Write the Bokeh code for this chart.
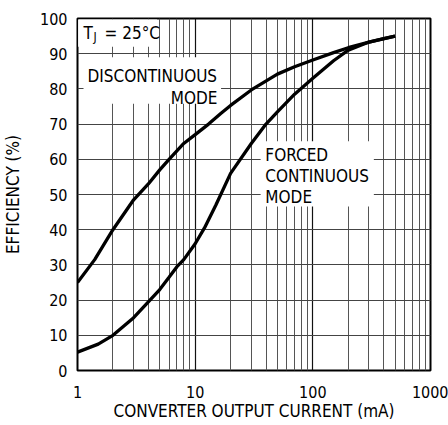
from bokeh.plotting import figure
from bokeh.models import Range1d, FixedTicker, BoxAnnotation, Label
from bokeh.embed import file_html
from bokeh.resources import INLINE

# ---- data ----
disc_x = [1, 1.4, 2, 3, 4, 5, 6, 8, 10, 13, 16.5, 20, 30, 50, 70, 100, 150, 200, 300, 400, 500]
disc_y = [25, 31.5, 40, 48.5, 53, 57, 60, 64.5, 67, 70, 73, 75.3, 79.7, 84.2, 86.3, 88.2, 90.3, 91.7, 93.3, 94.3, 95]

forced_x = [1, 1.5, 2, 3, 4, 5, 6, 7, 8, 10, 12, 15, 20, 30, 40, 50, 70, 100, 150, 200, 300, 500]
forced_y = [5.2, 7.5, 10, 15, 19.5, 23, 26.5, 29.5, 31.5, 36, 40.5, 47, 56, 64.5, 70, 73.5, 78.5, 83, 88, 91, 93.3, 95]

x_ticks = [1, 10, 100, 1000]
x_minor = [m * d for d in (1, 10, 100) for m in range(2, 10)]
y_ticks = list(range(0, 101, 10))

FONT = "DejaVu Sans Condensed"
FS = "17px"
TICK_FS = "16px"

p = figure(frame_width=353, frame_height=352, x_axis_type="log",
           x_range=Range1d(1, 1000), y_range=Range1d(0, 100),
           output_backend="svg", toolbar_location=None,
           min_border_left=69, min_border_right=18, min_border_top=18, min_border_bottom=46)
p.background_fill_color = "white"
p.border_fill_color = "white"
p.outline_line_color = "black"
p.outline_line_width = 2

# grids
p.xaxis.ticker = FixedTicker(ticks=x_ticks, minor_ticks=x_minor)
p.yaxis.ticker = FixedTicker(ticks=y_ticks)
p.xgrid.grid_line_color = "#111111"
p.xgrid.grid_line_width = 1.2
p.xgrid.minor_grid_line_color = "#555555"
p.xgrid.minor_grid_line_width = 1
p.ygrid.grid_line_color = "#444444"
p.ygrid.grid_line_width = 1.2

for ax in (p.xaxis[0], p.yaxis[0]):
    ax.major_tick_out = 0
    ax.major_tick_in = 0
    ax.minor_tick_out = 0
    ax.minor_tick_in = 0
    ax.axis_line_color = None
    ax.major_label_text_font = FONT
    ax.major_label_text_font_size = TICK_FS
    ax.major_label_text_color = "black"
    ax.axis_label_text_font = FONT
    ax.axis_label_text_font_size = FS
    ax.axis_label_text_font_style = "normal"
    ax.axis_label_text_color = "black"

p.xaxis.axis_label = "CONVERTER OUTPUT CURRENT (mA)"
p.yaxis.axis_label = "EFFICIENCY (%)"
p.xaxis.major_label_standoff = 15
p.xaxis.axis_label_standoff = 0
p.yaxis.major_label_standoff = 10
p.yaxis.axis_label_standoff = 14
p.xaxis.major_label_overrides = {1: "1", 10: "10", 100: "100", 1000: "1000"}

# white label boxes
boxes = [
    dict(left=1.012, right=4.75, top=99.7, bottom=92.0),
    dict(left=1.125, right=16.6, top=89.0, bottom=75.8),
    dict(left=36.0, right=330, top=65.1, bottom=46.6),
]
for b in boxes:
    p.add_layout(BoxAnnotation(fill_color="white", fill_alpha=1, line_color=None, level="underlay", **b))

# curves
p.line(disc_x, disc_y, line_color="black", line_width=3.3)
p.line(forced_x, forced_y, line_color="black", line_width=3.3)

def lab(x, y, t, align="left", size=FS, dx=0):
    p.add_layout(Label(x=x, y=y, x_offset=dx, text=t, text_font=FONT, text_font_size=size,
                       text_color="black", text_align=align, text_baseline="alphabetic"))

lab(1, 95.8, "T", dx=6)
lab(1, 94.8, "J", size="12px", dx=16)
lab(1, 95.8, "= 25°C", dx=27)
lab(1, 83.6, "DISCONTINUOUS", dx=10)
lab(1, 77.5, "MODE", align="right", dx=140)
lab(39.5, 61.1, "FORCED")
lab(39.5, 55.2, "CONTINUOUS")
lab(39.5, 49.3, "MODE")

open("out.html", "w").write(file_html(p, INLINE))
